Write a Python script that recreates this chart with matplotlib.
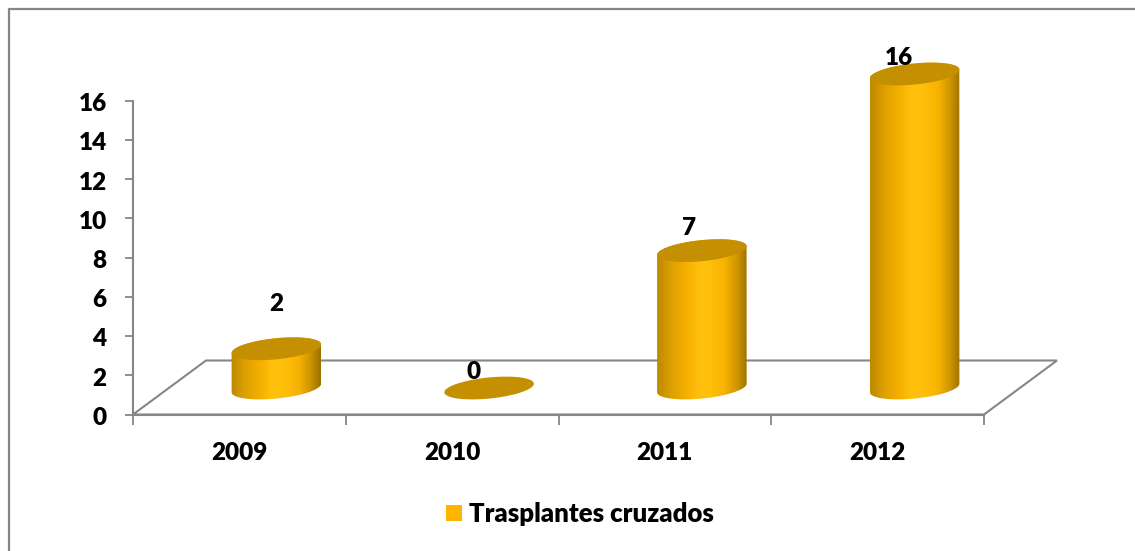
import numpy as np
from matplotlib import pyplot as plt
from matplotlib.colors import LinearSegmentedColormap
from matplotlib.lines import Line2D
from matplotlib.patches import Patch, PathPatch, Polygon
from matplotlib.path import Path
from matplotlib.transforms import ScaledTranslation

years = ["2009", "2010", "2011", "2012"]
values = [2, 0, 7, 16]
series_name = "Trasplantes cruzados"
y_ticks = [0, 2, 4, 6, 8, 10, 12, 14, 16]

plt.rcParams["font.family"] = "Lato"
plt.rcParams["font.weight"] = "heavy"

W, H = 1135, 551
GRAY = "#868686"

fig = plt.figure(figsize=(W / 100, H / 100), dpi=100)
ax = fig.add_axes([133 / W, (H - 414.5) / H, 851 / W, 314 / H])

# px per data unit, the cylinders are worked out in px
sx = 851 / 4
sy = 314 / 16

# chart frame, only top and left show in the crop
fig.add_artist(Line2D([9 / W, 9 / W, 1], [0, (H - 8.5) / H, (H - 8.5) / H], color=GRAY,
                      linewidth=1.6, transform=fig.transFigure))

# floor of the 3d box
depth_x = 73 / sx
depth_y = 54 / sy
floor = Polygon([(0, 0), (4, 0), (4 + depth_x, depth_y), (depth_x, depth_y)], closed=True,
                fill=False, edgecolor=GRAY, linewidth=1.5, clip_on=False, zorder=1)
ax.add_patch(floor)

shade = LinearSegmentedColormap.from_list(
    "cyl",
    [(0, "#BC8900"), (0.15, "#DDA000"), (0.33, "#F6B000"), (0.45, "#FFC00C"), (0.58, "#FFC00C"),
     (0.75, "#F8B200"), (0.88, "#CF9600"), (1, "#9A7000")],
)
gradient = np.linspace(0, 1, 256).reshape(1, -1)


def ellipse_pts(cx, cy, start=0.0, stop=2 * np.pi):
    # tilted ellipse in px around (cx, cy), y up
    a, b, tilt = 45, 10.5, np.radians(5.8)
    t = np.linspace(start, stop, 80)
    px = a * np.cos(t) * np.cos(tilt) - b * np.sin(t) * np.sin(tilt)
    py = a * np.cos(t) * np.sin(tilt) + b * np.sin(t) * np.cos(tilt)
    return np.column_stack([cx + px / sx, cy + py / sy])


base_x = 37 / sx
base_y = 26.5 / sy
label_offsets = [(0, 45), (-16, 16), (-13, 23), (-16, 16)]

for i, (year, v) in enumerate(zip(years, values)):
    cx = i + 0.5 + base_x
    top = base_y + v
    half = 45 / sx
    if v > 0:
        im = ax.imshow(gradient, cmap=shade, aspect="auto", zorder=3,
                       extent=(cx - half, cx + half, base_y - 1, top + 1))
        # silhouette: lower arc of the base then the top ellipse's upper arc
        lower = ellipse_pts(cx, base_y, np.pi, 2 * np.pi)
        upper = ellipse_pts(cx, top, 0, np.pi)
        outline = np.vstack([lower, upper, lower[:1]])
        clip = PathPatch(Path(outline), transform=ax.transData, facecolor="none", edgecolor="none")
        ax.add_patch(clip)
        im.set_clip_path(clip)
        im.set_clip_box(fig.bbox)
    ax.add_patch(Polygon(ellipse_pts(cx, top), closed=True, facecolor="#C48F00",
                         edgecolor="none", clip_on=False, zorder=4))
    dx, dy = label_offsets[i]
    ax.annotate(str(v), (cx, top), xytext=(dx * 0.72, dy * 0.72), textcoords="offset points",
                ha="center", va="center", fontsize=17.5, fontweight="heavy", color="black",
                zorder=6, annotation_clip=False)

ax.set_xlim(0, 4)
ax.set_ylim(0, 16)

for name in ["top", "right"]:
    ax.spines[name].set_visible(False)
for name in ["left", "bottom"]:
    ax.spines[name].set_color(GRAY)
    ax.spines[name].set_linewidth(1.5)
    ax.spines[name].set_zorder(2)

ax.set_yticks(y_ticks)
ax.set_xticks(range(5))
ax.set_xticklabels([])
ax.tick_params(axis="y", length=6, width=1.3, color=GRAY, labelsize=17.5, pad=13)
ax.tick_params(axis="x", length=7, width=1.3, color=GRAY)
# labels sit a little under their ticks
nudge = ScaledTranslation(0, -1.5 / 100, fig.dpi_scale_trans)
for label in ax.get_yticklabels():
    label.set_transform(label.get_transform() + nudge)
for i, year in enumerate(years):
    ax.annotate(year, (i + 0.5, 0), xytext=(0, -27.5), textcoords="offset points",
                ha="center", va="center", fontsize=17.5, fontweight="heavy",
                annotation_clip=False)

handle = Patch(facecolor="#FFB400", edgecolor="none")
fig.legend([handle], [series_name], loc="center", bbox_to_anchor=(580 / W, (H - 514) / H),
           frameon=False, handlelength=0.62, handleheight=0.62, handletextpad=0.28,
           prop={"family": "Lato", "weight": "heavy", "size": 18.5})

fig.savefig("out.png", dpi=100)
